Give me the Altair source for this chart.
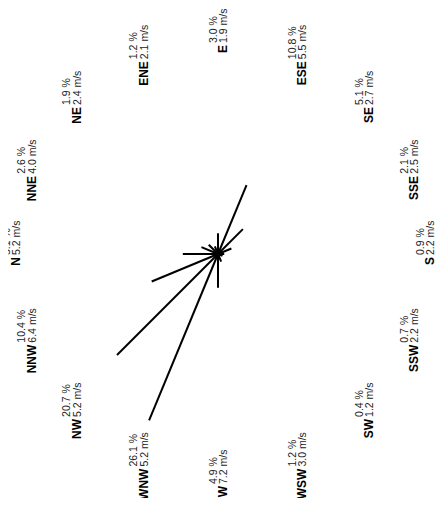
import altair as alt
import numpy as np
import pandas as pd

# Wind rose data (16 compass sectors, clockwise from North)
directions = ["N", "NNE", "NE", "ENE", "E", "ESE", "SE", "SSE",
              "S", "SSW", "SW", "WSW", "W", "WNW", "NW", "NNW"]
frequency_pct = [5.1, 2.6, 1.9, 1.2, 3.0, 10.8, 5.1, 2.1,
                 0.9, 0.7, 0.4, 1.2, 4.9, 26.1, 20.7, 10.4]
mean_speed = [5.2, 4.0, 2.4, 2.1, 1.9, 5.5, 2.7, 2.5,
              2.2, 2.2, 1.2, 3.0, 7.2, 5.2, 5.2, 6.4]

df = pd.DataFrame({"dir": directions, "pct": frequency_pct, "speed": mean_speed})
df["deg"] = np.arange(len(df)) * 360.0 / len(df)
df["pct_label"] = [f"{v:.1f} %" for v in df["pct"]]
df["speed_label"] = [f"{v:.1f} m/s" for v in df["speed"]]

PX_PER_PCT = 6.9
FONT = "Liberation Sans, Arial, Helvetica, sans-serif"

# plot area = 429 x 490 px, center of the rose at the origin
xs = alt.Scale(domain=[-210, 219], nice=False, zero=False)
ys = alt.Scale(domain=[-244, 246], nice=False, zero=False)

RAD = "(datum.deg * PI / 180)"
base = alt.Chart(df).transform_calculate(
    z="0",
    ex=f"-datum.pct * {PX_PER_PCT} * cos{RAD}",
    ey=f"datum.pct * {PX_PER_PCT} * sin{RAD}",
    lx=f"9 - 207 * cos{RAD}",
    ly=f"-3 + (sin{RAD} > 0 ? 212 : 229) * sin{RAD}",
)

spikes = base.mark_rule(color="black", strokeWidth=2).encode(
    x=alt.X("z:Q", scale=xs, axis=None),
    y=alt.Y("z:Q", scale=ys, axis=None),
    x2="ex:Q",
    y2="ey:Q",
)

pos = dict(
    x=alt.X("lx:Q", scale=xs, axis=None),
    y=alt.Y("ly:Q", scale=ys, axis=None),
)

names = base.mark_text(
    angle=270, align="right", baseline="alphabetic",
    font=FONT, fontWeight="bold", fontSize=12, color="black",
).encode(text="dir:N", **pos)

pct_text = base.mark_text(
    angle=270, align="left", baseline="alphabetic", dx=2, dy=-10.5,
    font=FONT, fontSize=10.5, color="#222222",
).encode(text="pct_label:N", **pos)

speed_text = base.mark_text(
    angle=270, align="left", baseline="alphabetic", dx=2, dy=0,
    font=FONT, fontSize=10.5, color="#222222",
).encode(text="speed_label:N", **pos)

chart = alt.layer(spikes, names, pct_text, speed_text).properties(
    width=429, height=490, padding=0,
    autosize=alt.AutoSizeParams(type="none"),
).configure_view(stroke=None)

chart.save("out.html", embed_options={"renderer": "svg", "actions": False})
